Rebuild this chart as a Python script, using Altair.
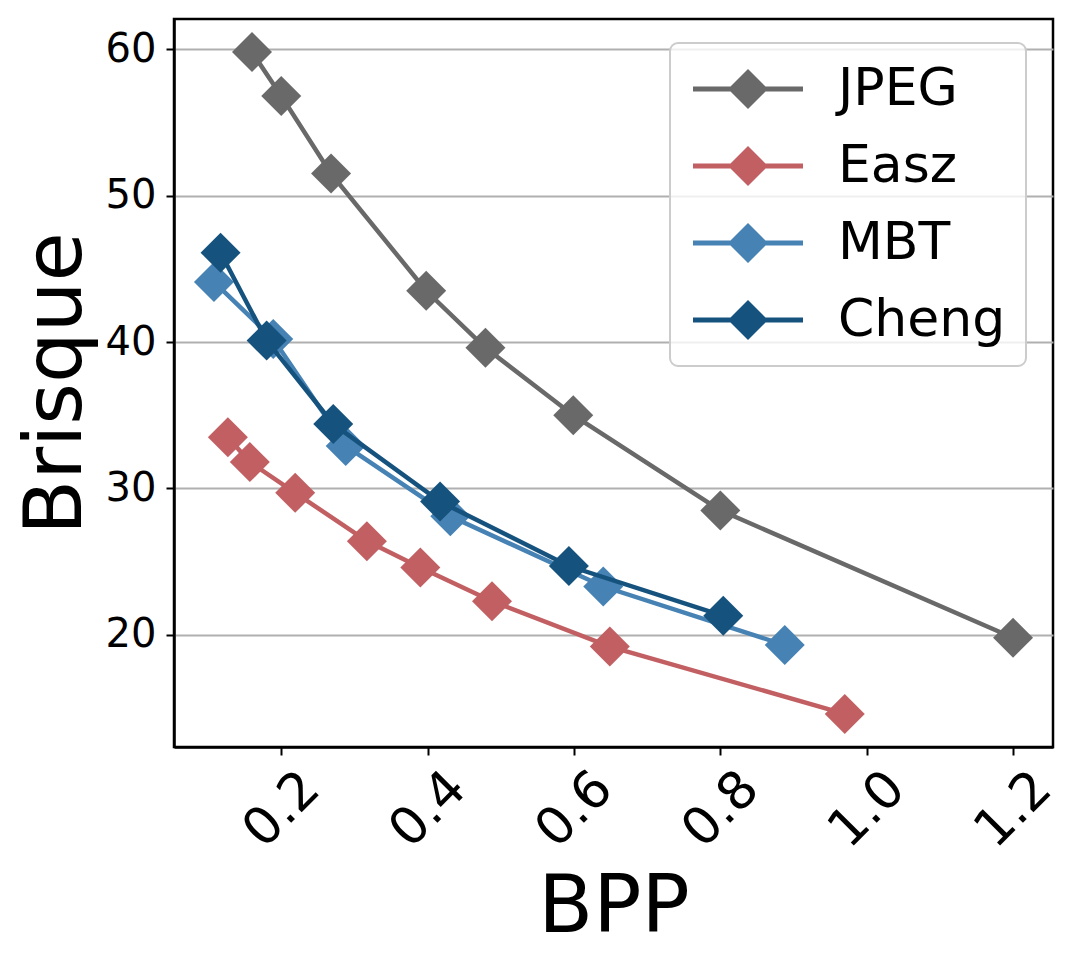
import altair as alt
import pandas as pd

series = ["JPEG", "Easz", "MBT", "Cheng"]
colors = ["#696969", "#c25f62", "#4682b4", "#16527e"]

jpeg_bpp = [0.16, 0.20, 0.268, 0.398, 0.479, 0.599, 0.80, 1.20]
jpeg_brisque = [59.8, 56.8, 51.5, 43.5, 39.6, 35.0, 28.5, 19.8]

easz_bpp = [0.127, 0.157, 0.219, 0.317, 0.39, 0.488, 0.649, 0.97]
easz_brisque = [33.5, 31.8, 29.7, 26.4, 24.6, 22.3, 19.2, 14.6]

mbt_bpp = [0.108, 0.189, 0.288, 0.431, 0.64, 0.888]
mbt_brisque = [44.1, 40.2, 32.9, 28.1, 23.3, 19.3]

cheng_bpp = [0.117, 0.18, 0.271, 0.417, 0.593, 0.804]
cheng_brisque = [46.1, 40.1, 34.4, 29.1, 24.7, 21.3]

x_ticks = [0.2, 0.4, 0.6, 0.8, 1.0, 1.2]
y_ticks = [20, 30, 40, 50, 60]

rows = []
for name, xs, ys in [("JPEG", jpeg_bpp, jpeg_brisque), ("Easz", easz_bpp, easz_brisque),
                     ("MBT", mbt_bpp, mbt_brisque), ("Cheng", cheng_bpp, cheng_brisque)]:
    for i, (a, b) in enumerate(zip(xs, ys)):
        rows.append({"method": name, "bpp": a, "brisque": b, "idx": i})
df = pd.DataFrame(rows)

FONT = "DejaVu Sans"
xmin, xmax = 0.0534, 1.2546
ymin, ymax = 12.34, 62.06

xscale = alt.Scale(domain=[xmin, xmax], nice=False, zero=False)
yscale = alt.Scale(domain=[ymin, ymax], nice=False, zero=False)
cscale = alt.Scale(domain=series, range=colors)

xaxis = alt.Axis(values=x_ticks, format=".1f", labelAngle=-45, labelAlign="center",
                 labelBaseline="middle", labelPadding=54, labelFontSize=52, labelFont=FONT,
                 labelColor="black", tickSize=8, tickWidth=2, tickColor="black",
                 grid=False, labelFlush=False, labelOverlap=False,
                 title="BPP", titleFontSize=80, titleFont=FONT, titleFontWeight="normal",
                 titleColor="black", titleX=439.5, titleY=184, titleAlign="center",
                 titleBaseline="alphabetic", domainColor="black", domainWidth=2.5)
yaxis = alt.Axis(values=y_ticks, format="d", labelFontSize=40, labelFont=FONT,
                 labelColor="black", labelPadding=10, tickSize=8, tickWidth=2,
                 tickColor="black", grid=True, gridColor="#b0b0b0", gridWidth=2,
                 title="Brisque", titleFontSize=80, titleFont=FONT, titleFontWeight="normal",
                 titleColor="black", titleAngle=-90, titleX=-94, titleY=364,
                 titleAlign="center", titleBaseline="alphabetic",
                 domainColor="black", domainWidth=2.5)

legend_path = "M-2.75,-0.12L2.75,-0.12L2.75,0.12L-2.75,0.12Z M-1,0L0,-1L1,0L0,1Z"
legend = alt.Legend(
    title=None, orient="none", legendX=496, legendY=24,
    symbolType=legend_path, symbolSize=1600, symbolStrokeWidth=0,
    symbolOffset=32, labelOffset=64, labelFontSize=52, labelFont=FONT,
    labelColor="black", labelLimit=400, rowPadding=25, padding=20,
    fillColor="rgba(255,255,255,0.8)", strokeColor="#cccccc",
    cornerRadius=8)

X = alt.X("bpp:Q", scale=xscale, axis=xaxis)
Y = alt.Y("brisque:Q", scale=yscale, axis=yaxis)

layers = []
n = len(series)
for k, name in enumerate(series):
    base = alt.Chart(df).transform_filter(alt.datum.method == name)
    line = base.mark_line(strokeWidth=4.5).encode(
        x=X, y=Y,
        color=alt.Color("method:N", scale=cscale, legend=None),
        order="idx:Q",
    )
    pts = base.mark_point(filled=True, shape="diamond", size=1600, opacity=1).encode(
        x=X, y=Y,
        color=alt.Color("method:N", scale=cscale,
                        legend=legend if k == n - 1 else None),
    )
    layers += [line, pts]

chart = alt.layer(*layers).resolve_legend(color="independent").properties(
    width=879, height=728,
    autosize=alt.AutoSizeParams(type="none"),
    padding={"left": 166, "top": 11, "right": 19, "bottom": 211},
).configure_view(stroke="black", strokeWidth=2.5).configure_legend(
    strokeWidth=2
)

chart.save("out.html", embed_options={"renderer": "svg", "actions": False})
